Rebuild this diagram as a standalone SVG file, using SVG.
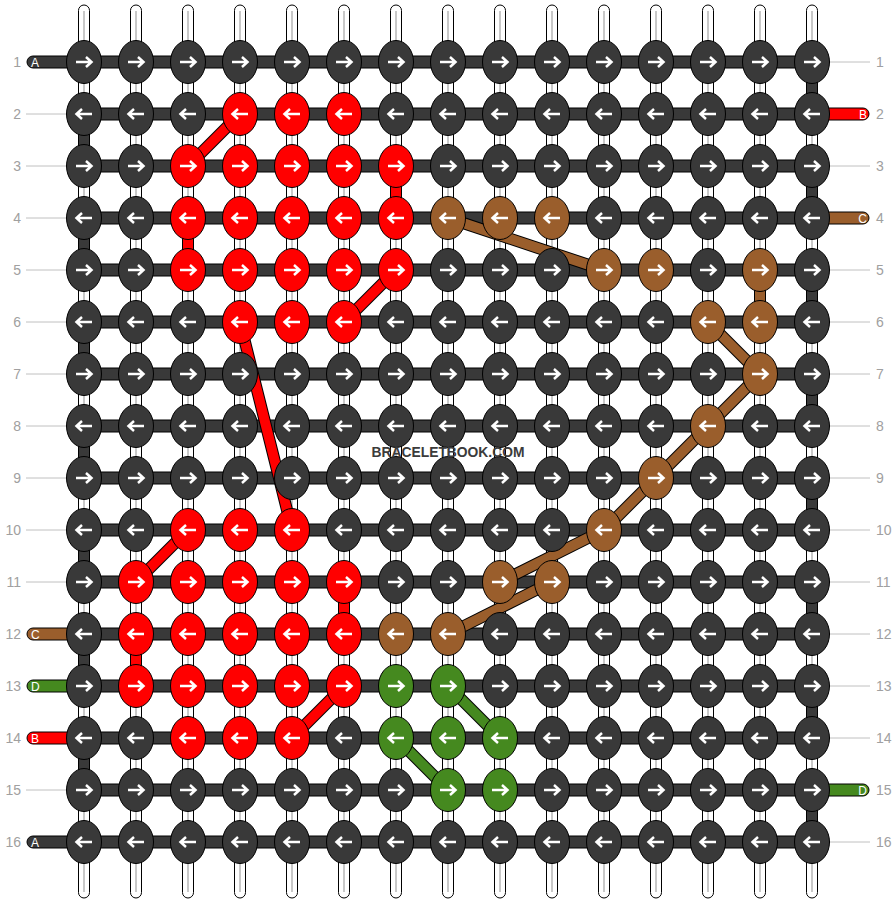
<svg xmlns="http://www.w3.org/2000/svg" xmlns:xlink="http://www.w3.org/1999/xlink" width="896" height="904" viewBox="0 0 896 904">
<style>
.str{fill:#fff;stroke:#000;stroke-width:1}
.strc{stroke:#c8c8c8;stroke-width:2}
.bar{fill:#393939;stroke:#000;stroke-width:1}
.ev{fill:#393939;stroke:#000;stroke-width:1}
.o{stroke:#000;stroke-width:12}
.cr{stroke:#ff0000;stroke-width:10}
.cb{stroke:#9a5e2c;stroke-width:10}
.cg{stroke:#45891f;stroke-width:10}
.k{stroke:#000;stroke-width:1}
.ar{fill:none;stroke:#fff;stroke-width:2.5}
.num{font-family:"Liberation Sans",Arial,sans-serif;font-size:14px;fill:#a0a0a0}
.lab{font-family:"Liberation Sans",Arial,sans-serif;font-size:12px;fill:#fff}
.gl{stroke:#c0c0c0;stroke-width:1}
.wm{font-family:"Liberation Sans",Arial,sans-serif;font-size:15px;font-weight:bold;fill:#3b3b3b}
</style>
<defs>
<path id="aR" class="ar" d="M-8,0H7M2,-5L7.5,0L2,5"/>
<path id="aL" class="ar" d="M8,0H-7M-2,-5L-7.5,0L-2,5"/>
<g id="dR"><ellipse class="k" rx="17.5" ry="21.5" fill="#393939"/><use href="#aR"/></g>
<g id="dL"><ellipse class="k" rx="17.5" ry="21.5" fill="#393939"/><use href="#aL"/></g>
<g id="rR"><ellipse class="k" rx="17.5" ry="21.5" fill="#ff0000"/><use href="#aR"/></g>
<g id="rL"><ellipse class="k" rx="17.5" ry="21.5" fill="#ff0000"/><use href="#aL"/></g>
<g id="bR"><ellipse class="k" rx="17.5" ry="21.5" fill="#9a5e2c"/><use href="#aR"/></g>
<g id="bL"><ellipse class="k" rx="17.5" ry="21.5" fill="#9a5e2c"/><use href="#aL"/></g>
<g id="gR"><ellipse class="k" rx="17.5" ry="21.5" fill="#45891f"/><use href="#aR"/></g>
<g id="gL"><ellipse class="k" rx="17.5" ry="21.5" fill="#45891f"/><use href="#aL"/></g>
</defs>
<rect width="896" height="904" fill="#fff"/>
<g id="labels">
<text class="num" x="21" y="67" text-anchor="end">1</text><text class="num" x="876" y="67">1</text>
<text class="num" x="21" y="119" text-anchor="end">2</text><text class="num" x="876" y="119">2</text>
<text class="num" x="21" y="171" text-anchor="end">3</text><text class="num" x="876" y="171">3</text>
<text class="num" x="21" y="223" text-anchor="end">4</text><text class="num" x="876" y="223">4</text>
<text class="num" x="21" y="275" text-anchor="end">5</text><text class="num" x="876" y="275">5</text>
<text class="num" x="21" y="327" text-anchor="end">6</text><text class="num" x="876" y="327">6</text>
<text class="num" x="21" y="379" text-anchor="end">7</text><text class="num" x="876" y="379">7</text>
<text class="num" x="21" y="431" text-anchor="end">8</text><text class="num" x="876" y="431">8</text>
<text class="num" x="21" y="483" text-anchor="end">9</text><text class="num" x="876" y="483">9</text>
<text class="num" x="21" y="535" text-anchor="end">10</text><text class="num" x="876" y="535">10</text>
<text class="num" x="21" y="587" text-anchor="end">11</text><text class="num" x="876" y="587">11</text>
<text class="num" x="21" y="639" text-anchor="end">12</text><text class="num" x="876" y="639">12</text>
<text class="num" x="21" y="691" text-anchor="end">13</text><text class="num" x="876" y="691">13</text>
<text class="num" x="21" y="743" text-anchor="end">14</text><text class="num" x="876" y="743">14</text>
<text class="num" x="21" y="795" text-anchor="end">15</text><text class="num" x="876" y="795">15</text>
<text class="num" x="21" y="847" text-anchor="end">16</text><text class="num" x="876" y="847">16</text>
<g class="gl">
<line x1="26" y1="114" x2="70" y2="114"/><line x1="26" y1="166" x2="70" y2="166"/><line x1="26" y1="218" x2="70" y2="218"/><line x1="26" y1="270" x2="70" y2="270"/><line x1="26" y1="322" x2="70" y2="322"/><line x1="26" y1="374" x2="70" y2="374"/><line x1="26" y1="426" x2="70" y2="426"/><line x1="26" y1="478" x2="70" y2="478"/><line x1="26" y1="530" x2="70" y2="530"/><line x1="26" y1="582" x2="70" y2="582"/><line x1="26" y1="790" x2="70" y2="790"/>
<line x1="826" y1="62" x2="870" y2="62"/><line x1="826" y1="166" x2="870" y2="166"/><line x1="826" y1="270" x2="870" y2="270"/><line x1="826" y1="322" x2="870" y2="322"/><line x1="826" y1="374" x2="870" y2="374"/><line x1="826" y1="426" x2="870" y2="426"/><line x1="826" y1="478" x2="870" y2="478"/><line x1="826" y1="530" x2="870" y2="530"/><line x1="826" y1="582" x2="870" y2="582"/><line x1="826" y1="634" x2="870" y2="634"/><line x1="826" y1="686" x2="870" y2="686"/><line x1="826" y1="738" x2="870" y2="738"/><line x1="826" y1="842" x2="870" y2="842"/>
</g>
</g>
<g id="strings">
<rect class="str" x="78.5" y="5" width="11" height="893" rx="5.5"/>
<rect class="str" x="130.5" y="5" width="11" height="893" rx="5.5"/>
<rect class="str" x="182.5" y="5" width="11" height="893" rx="5.5"/>
<rect class="str" x="234.5" y="5" width="11" height="893" rx="5.5"/>
<rect class="str" x="286.5" y="5" width="11" height="893" rx="5.5"/>
<rect class="str" x="338.5" y="5" width="11" height="893" rx="5.5"/>
<rect class="str" x="390.5" y="5" width="11" height="893" rx="5.5"/>
<rect class="str" x="442.5" y="5" width="11" height="893" rx="5.5"/>
<rect class="str" x="494.5" y="5" width="11" height="893" rx="5.5"/>
<rect class="str" x="546.5" y="5" width="11" height="893" rx="5.5"/>
<rect class="str" x="598.5" y="5" width="11" height="893" rx="5.5"/>
<rect class="str" x="650.5" y="5" width="11" height="893" rx="5.5"/>
<rect class="str" x="702.5" y="5" width="11" height="893" rx="5.5"/>
<rect class="str" x="754.5" y="5" width="11" height="893" rx="5.5"/>
<rect class="str" x="806.5" y="5" width="11" height="893" rx="5.5"/>
<g class="strc">
<line x1="84" y1="11" x2="84" y2="892"/><line x1="136" y1="11" x2="136" y2="892"/><line x1="188" y1="11" x2="188" y2="892"/><line x1="240" y1="11" x2="240" y2="892"/><line x1="292" y1="11" x2="292" y2="892"/><line x1="344" y1="11" x2="344" y2="892"/><line x1="396" y1="11" x2="396" y2="892"/><line x1="448" y1="11" x2="448" y2="892"/><line x1="500" y1="11" x2="500" y2="892"/><line x1="552" y1="11" x2="552" y2="892"/><line x1="604" y1="11" x2="604" y2="892"/><line x1="656" y1="11" x2="656" y2="892"/><line x1="708" y1="11" x2="708" y2="892"/><line x1="760" y1="11" x2="760" y2="892"/><line x1="812" y1="11" x2="812" y2="892"/>
</g>
</g>
<g id="rows">
<rect class="bar" x="84" y="56" width="728" height="12"/>
<rect class="bar" x="84" y="108" width="728" height="12"/>
<rect class="bar" x="84" y="160" width="728" height="12"/>
<rect class="bar" x="84" y="212" width="728" height="12"/>
<rect class="bar" x="84" y="264" width="728" height="12"/>
<rect class="bar" x="84" y="316" width="728" height="12"/>
<rect class="bar" x="84" y="368" width="728" height="12"/>
<rect class="bar" x="84" y="420" width="728" height="12"/>
<rect class="bar" x="84" y="472" width="728" height="12"/>
<rect class="bar" x="84" y="524" width="728" height="12"/>
<rect class="bar" x="84" y="576" width="728" height="12"/>
<rect class="bar" x="84" y="628" width="728" height="12"/>
<rect class="bar" x="84" y="680" width="728" height="12"/>
<rect class="bar" x="84" y="732" width="728" height="12"/>
<rect class="bar" x="84" y="784" width="728" height="12"/>
<rect class="bar" x="84" y="836" width="728" height="12"/>
<rect x="27" y="56" width="62" height="12" rx="6" fill="#393939" stroke="#000"/>
<rect x="27" y="628" width="62" height="12" rx="6" fill="#9a5e2c" stroke="#000"/>
<rect x="27" y="680" width="62" height="12" rx="6" fill="#45891f" stroke="#000"/>
<rect x="27" y="732" width="62" height="12" rx="6" fill="#ff0000" stroke="#000"/>
<rect x="27" y="836" width="62" height="12" rx="6" fill="#393939" stroke="#000"/>
<rect x="807" y="108" width="62" height="12" rx="6" fill="#ff0000" stroke="#000"/>
<rect x="807" y="212" width="62" height="12" rx="6" fill="#9a5e2c" stroke="#000"/>
<rect x="807" y="784" width="62" height="12" rx="6" fill="#45891f" stroke="#000"/>
<text class="lab" x="31" y="66.5">A</text>
<text class="lab" x="31" y="638.5">C</text>
<text class="lab" x="31" y="690.5">D</text>
<text class="lab" x="31" y="742.5">B</text>
<text class="lab" x="31" y="846.5">A</text>
<text class="lab" x="867" y="118.5" text-anchor="end">B</text>
<text class="lab" x="867" y="222.5" text-anchor="end">C</text>
<text class="lab" x="867" y="794.5" text-anchor="end">D</text>
</g>
<g id="connectors">
<rect class="ev" x="806.5" y="62" width="11" height="52"/>
<rect class="ev" x="78.5" y="114" width="11" height="52"/>
<rect class="ev" x="806.5" y="166" width="11" height="52"/>
<rect class="ev" x="78.5" y="218" width="11" height="52"/>
<rect class="ev" x="806.5" y="270" width="11" height="52"/>
<rect class="ev" x="78.5" y="322" width="11" height="52"/>
<rect class="ev" x="806.5" y="374" width="11" height="52"/>
<rect class="ev" x="78.5" y="426" width="11" height="52"/>
<rect class="ev" x="806.5" y="478" width="11" height="52"/>
<rect class="ev" x="78.5" y="530" width="11" height="52"/>
<rect class="ev" x="806.5" y="582" width="11" height="52"/>
<rect class="ev" x="78.5" y="634" width="11" height="52"/>
<rect class="ev" x="806.5" y="686" width="11" height="52"/>
<rect class="ev" x="78.5" y="738" width="11" height="52"/>
<rect class="ev" x="806.5" y="790" width="11" height="52"/>
<g id="redpath">
<line class="o" x1="240" y1="114" x2="188" y2="166"/><line class="cr" x1="240" y1="114" x2="188" y2="166"/>
<line class="o" x1="396" y1="166" x2="396" y2="218"/><line class="cr" x1="396" y1="166" x2="396" y2="218"/>
<line class="o" x1="188" y1="218" x2="188" y2="270"/><line class="cr" x1="188" y1="218" x2="188" y2="270"/>
<line class="o" x1="396" y1="270" x2="344" y2="322"/><line class="cr" x1="396" y1="270" x2="344" y2="322"/>
<line class="o" x1="240" y1="322" x2="292" y2="530"/><line class="cr" x1="240" y1="322" x2="292" y2="530"/>
<line class="o" x1="188" y1="530" x2="136" y2="582"/><line class="cr" x1="188" y1="530" x2="136" y2="582"/>
<line class="o" x1="344" y1="582" x2="344" y2="634"/><line class="cr" x1="344" y1="582" x2="344" y2="634"/>
<line class="o" x1="136" y1="634" x2="136" y2="686"/><line class="cr" x1="136" y1="634" x2="136" y2="686"/>
<line class="o" x1="344" y1="686" x2="292" y2="738"/><line class="cr" x1="344" y1="686" x2="292" y2="738"/>
</g>
<g id="brownpath">
<line class="o" x1="448" y1="218" x2="604" y2="270"/><line class="cb" x1="448" y1="218" x2="604" y2="270"/>
<line class="o" x1="760" y1="270" x2="760" y2="322"/><line class="cb" x1="760" y1="270" x2="760" y2="322"/>
<line class="o" x1="708" y1="322" x2="760" y2="374"/><line class="cb" x1="708" y1="322" x2="760" y2="374"/>
<line class="o" x1="760" y1="374" x2="708" y2="426"/><line class="cb" x1="760" y1="374" x2="708" y2="426"/>
<line class="o" x1="708" y1="426" x2="656" y2="478"/><line class="cb" x1="708" y1="426" x2="656" y2="478"/>
<line class="o" x1="656" y1="478" x2="604" y2="530"/><line class="cb" x1="656" y1="478" x2="604" y2="530"/>
<line class="o" x1="604" y1="530" x2="500" y2="582"/><line class="cb" x1="604" y1="530" x2="500" y2="582"/>
<line class="o" x1="552" y1="582" x2="448" y2="634"/><line class="cb" x1="552" y1="582" x2="448" y2="634"/>
</g>
<g id="greenpath">
<line class="o" x1="448" y1="686" x2="500" y2="738"/><line class="cg" x1="448" y1="686" x2="500" y2="738"/>
<line class="o" x1="396" y1="738" x2="448" y2="790"/><line class="cg" x1="396" y1="738" x2="448" y2="790"/>
</g>
</g>
<g id="knots">
<g id="k1_1" transform="translate(84,62)"><use href="#dR"/></g>
<g id="k1_2" transform="translate(136,62)"><use href="#dR"/></g>
<g id="k1_3" transform="translate(188,62)"><use href="#dR"/></g>
<g id="k1_4" transform="translate(240,62)"><use href="#dR"/></g>
<g id="k1_5" transform="translate(292,62)"><use href="#dR"/></g>
<g id="k1_6" transform="translate(344,62)"><use href="#dR"/></g>
<g id="k1_7" transform="translate(396,62)"><use href="#dR"/></g>
<g id="k1_8" transform="translate(448,62)"><use href="#dR"/></g>
<g id="k1_9" transform="translate(500,62)"><use href="#dR"/></g>
<g id="k1_10" transform="translate(552,62)"><use href="#dR"/></g>
<g id="k1_11" transform="translate(604,62)"><use href="#dR"/></g>
<g id="k1_12" transform="translate(656,62)"><use href="#dR"/></g>
<g id="k1_13" transform="translate(708,62)"><use href="#dR"/></g>
<g id="k1_14" transform="translate(760,62)"><use href="#dR"/></g>
<g id="k1_15" transform="translate(812,62)"><use href="#dR"/></g>
<g id="k2_1" transform="translate(84,114)"><use href="#dL"/></g>
<g id="k2_2" transform="translate(136,114)"><use href="#dL"/></g>
<g id="k2_3" transform="translate(188,114)"><use href="#dL"/></g>
<g id="k2_4" transform="translate(240,114)"><use href="#rL"/></g>
<g id="k2_5" transform="translate(292,114)"><use href="#rL"/></g>
<g id="k2_6" transform="translate(344,114)"><use href="#rL"/></g>
<g id="k2_7" transform="translate(396,114)"><use href="#dL"/></g>
<g id="k2_8" transform="translate(448,114)"><use href="#dL"/></g>
<g id="k2_9" transform="translate(500,114)"><use href="#dL"/></g>
<g id="k2_10" transform="translate(552,114)"><use href="#dL"/></g>
<g id="k2_11" transform="translate(604,114)"><use href="#dL"/></g>
<g id="k2_12" transform="translate(656,114)"><use href="#dL"/></g>
<g id="k2_13" transform="translate(708,114)"><use href="#dL"/></g>
<g id="k2_14" transform="translate(760,114)"><use href="#dL"/></g>
<g id="k2_15" transform="translate(812,114)"><use href="#dL"/></g>
<g id="k3_1" transform="translate(84,166)"><use href="#dR"/></g>
<g id="k3_2" transform="translate(136,166)"><use href="#dR"/></g>
<g id="k3_3" transform="translate(188,166)"><use href="#rR"/></g>
<g id="k3_4" transform="translate(240,166)"><use href="#rR"/></g>
<g id="k3_5" transform="translate(292,166)"><use href="#rR"/></g>
<g id="k3_6" transform="translate(344,166)"><use href="#rR"/></g>
<g id="k3_7" transform="translate(396,166)"><use href="#rR"/></g>
<g id="k3_8" transform="translate(448,166)"><use href="#dR"/></g>
<g id="k3_9" transform="translate(500,166)"><use href="#dR"/></g>
<g id="k3_10" transform="translate(552,166)"><use href="#dR"/></g>
<g id="k3_11" transform="translate(604,166)"><use href="#dR"/></g>
<g id="k3_12" transform="translate(656,166)"><use href="#dR"/></g>
<g id="k3_13" transform="translate(708,166)"><use href="#dR"/></g>
<g id="k3_14" transform="translate(760,166)"><use href="#dR"/></g>
<g id="k3_15" transform="translate(812,166)"><use href="#dR"/></g>
<g id="k4_1" transform="translate(84,218)"><use href="#dL"/></g>
<g id="k4_2" transform="translate(136,218)"><use href="#dL"/></g>
<g id="k4_3" transform="translate(188,218)"><use href="#rL"/></g>
<g id="k4_4" transform="translate(240,218)"><use href="#rL"/></g>
<g id="k4_5" transform="translate(292,218)"><use href="#rL"/></g>
<g id="k4_6" transform="translate(344,218)"><use href="#rL"/></g>
<g id="k4_7" transform="translate(396,218)"><use href="#rL"/></g>
<g id="k4_8" transform="translate(448,218)"><use href="#bL"/></g>
<g id="k4_9" transform="translate(500,218)"><use href="#bL"/></g>
<g id="k4_10" transform="translate(552,218)"><use href="#bL"/></g>
<g id="k4_11" transform="translate(604,218)"><use href="#dL"/></g>
<g id="k4_12" transform="translate(656,218)"><use href="#dL"/></g>
<g id="k4_13" transform="translate(708,218)"><use href="#dL"/></g>
<g id="k4_14" transform="translate(760,218)"><use href="#dL"/></g>
<g id="k4_15" transform="translate(812,218)"><use href="#dL"/></g>
<g id="k5_1" transform="translate(84,270)"><use href="#dR"/></g>
<g id="k5_2" transform="translate(136,270)"><use href="#dR"/></g>
<g id="k5_3" transform="translate(188,270)"><use href="#rR"/></g>
<g id="k5_4" transform="translate(240,270)"><use href="#rR"/></g>
<g id="k5_5" transform="translate(292,270)"><use href="#rR"/></g>
<g id="k5_6" transform="translate(344,270)"><use href="#rR"/></g>
<g id="k5_7" transform="translate(396,270)"><use href="#rR"/></g>
<g id="k5_8" transform="translate(448,270)"><use href="#dR"/></g>
<g id="k5_9" transform="translate(500,270)"><use href="#dR"/></g>
<g id="k5_10" transform="translate(552,270)"><use href="#dR"/></g>
<g id="k5_11" transform="translate(604,270)"><use href="#bR"/></g>
<g id="k5_12" transform="translate(656,270)"><use href="#bR"/></g>
<g id="k5_13" transform="translate(708,270)"><use href="#dR"/></g>
<g id="k5_14" transform="translate(760,270)"><use href="#bR"/></g>
<g id="k5_15" transform="translate(812,270)"><use href="#dR"/></g>
<g id="k6_1" transform="translate(84,322)"><use href="#dL"/></g>
<g id="k6_2" transform="translate(136,322)"><use href="#dL"/></g>
<g id="k6_3" transform="translate(188,322)"><use href="#dL"/></g>
<g id="k6_4" transform="translate(240,322)"><use href="#rL"/></g>
<g id="k6_5" transform="translate(292,322)"><use href="#rL"/></g>
<g id="k6_6" transform="translate(344,322)"><use href="#rL"/></g>
<g id="k6_7" transform="translate(396,322)"><use href="#dL"/></g>
<g id="k6_8" transform="translate(448,322)"><use href="#dL"/></g>
<g id="k6_9" transform="translate(500,322)"><use href="#dL"/></g>
<g id="k6_10" transform="translate(552,322)"><use href="#dL"/></g>
<g id="k6_11" transform="translate(604,322)"><use href="#dL"/></g>
<g id="k6_12" transform="translate(656,322)"><use href="#dL"/></g>
<g id="k6_13" transform="translate(708,322)"><use href="#bL"/></g>
<g id="k6_14" transform="translate(760,322)"><use href="#bL"/></g>
<g id="k6_15" transform="translate(812,322)"><use href="#dL"/></g>
<g id="k7_1" transform="translate(84,374)"><use href="#dR"/></g>
<g id="k7_2" transform="translate(136,374)"><use href="#dR"/></g>
<g id="k7_3" transform="translate(188,374)"><use href="#dR"/></g>
<g id="k7_4" transform="translate(240,374)"><use href="#dR"/></g>
<g id="k7_5" transform="translate(292,374)"><use href="#dR"/></g>
<g id="k7_6" transform="translate(344,374)"><use href="#dR"/></g>
<g id="k7_7" transform="translate(396,374)"><use href="#dR"/></g>
<g id="k7_8" transform="translate(448,374)"><use href="#dR"/></g>
<g id="k7_9" transform="translate(500,374)"><use href="#dR"/></g>
<g id="k7_10" transform="translate(552,374)"><use href="#dR"/></g>
<g id="k7_11" transform="translate(604,374)"><use href="#dR"/></g>
<g id="k7_12" transform="translate(656,374)"><use href="#dR"/></g>
<g id="k7_13" transform="translate(708,374)"><use href="#dR"/></g>
<g id="k7_14" transform="translate(760,374)"><use href="#bR"/></g>
<g id="k7_15" transform="translate(812,374)"><use href="#dR"/></g>
<g id="k8_1" transform="translate(84,426)"><use href="#dL"/></g>
<g id="k8_2" transform="translate(136,426)"><use href="#dL"/></g>
<g id="k8_3" transform="translate(188,426)"><use href="#dL"/></g>
<g id="k8_4" transform="translate(240,426)"><use href="#dL"/></g>
<g id="k8_5" transform="translate(292,426)"><use href="#dL"/></g>
<g id="k8_6" transform="translate(344,426)"><use href="#dL"/></g>
<g id="k8_7" transform="translate(396,426)"><use href="#dL"/></g>
<g id="k8_8" transform="translate(448,426)"><use href="#dL"/></g>
<g id="k8_9" transform="translate(500,426)"><use href="#dL"/></g>
<g id="k8_10" transform="translate(552,426)"><use href="#dL"/></g>
<g id="k8_11" transform="translate(604,426)"><use href="#dL"/></g>
<g id="k8_12" transform="translate(656,426)"><use href="#dL"/></g>
<g id="k8_13" transform="translate(708,426)"><use href="#bL"/></g>
<g id="k8_14" transform="translate(760,426)"><use href="#dL"/></g>
<g id="k8_15" transform="translate(812,426)"><use href="#dL"/></g>
<g id="k9_1" transform="translate(84,478)"><use href="#dR"/></g>
<g id="k9_2" transform="translate(136,478)"><use href="#dR"/></g>
<g id="k9_3" transform="translate(188,478)"><use href="#dR"/></g>
<g id="k9_4" transform="translate(240,478)"><use href="#dR"/></g>
<g id="k9_5" transform="translate(292,478)"><use href="#dR"/></g>
<g id="k9_6" transform="translate(344,478)"><use href="#dR"/></g>
<g id="k9_7" transform="translate(396,478)"><use href="#dR"/></g>
<g id="k9_8" transform="translate(448,478)"><use href="#dR"/></g>
<g id="k9_9" transform="translate(500,478)"><use href="#dR"/></g>
<g id="k9_10" transform="translate(552,478)"><use href="#dR"/></g>
<g id="k9_11" transform="translate(604,478)"><use href="#dR"/></g>
<g id="k9_12" transform="translate(656,478)"><use href="#bR"/></g>
<g id="k9_13" transform="translate(708,478)"><use href="#dR"/></g>
<g id="k9_14" transform="translate(760,478)"><use href="#dR"/></g>
<g id="k9_15" transform="translate(812,478)"><use href="#dR"/></g>
<g id="k10_1" transform="translate(84,530)"><use href="#dL"/></g>
<g id="k10_2" transform="translate(136,530)"><use href="#dL"/></g>
<g id="k10_3" transform="translate(188,530)"><use href="#rL"/></g>
<g id="k10_4" transform="translate(240,530)"><use href="#rL"/></g>
<g id="k10_5" transform="translate(292,530)"><use href="#rL"/></g>
<g id="k10_6" transform="translate(344,530)"><use href="#dL"/></g>
<g id="k10_7" transform="translate(396,530)"><use href="#dL"/></g>
<g id="k10_8" transform="translate(448,530)"><use href="#dL"/></g>
<g id="k10_9" transform="translate(500,530)"><use href="#dL"/></g>
<g id="k10_10" transform="translate(552,530)"><use href="#dL"/></g>
<g id="k10_11" transform="translate(604,530)"><use href="#bL"/></g>
<g id="k10_12" transform="translate(656,530)"><use href="#dL"/></g>
<g id="k10_13" transform="translate(708,530)"><use href="#dL"/></g>
<g id="k10_14" transform="translate(760,530)"><use href="#dL"/></g>
<g id="k10_15" transform="translate(812,530)"><use href="#dL"/></g>
<g id="k11_1" transform="translate(84,582)"><use href="#dR"/></g>
<g id="k11_2" transform="translate(136,582)"><use href="#rR"/></g>
<g id="k11_3" transform="translate(188,582)"><use href="#rR"/></g>
<g id="k11_4" transform="translate(240,582)"><use href="#rR"/></g>
<g id="k11_5" transform="translate(292,582)"><use href="#rR"/></g>
<g id="k11_6" transform="translate(344,582)"><use href="#rR"/></g>
<g id="k11_7" transform="translate(396,582)"><use href="#dR"/></g>
<g id="k11_8" transform="translate(448,582)"><use href="#dR"/></g>
<g id="k11_9" transform="translate(500,582)"><use href="#bR"/></g>
<g id="k11_10" transform="translate(552,582)"><use href="#bR"/></g>
<g id="k11_11" transform="translate(604,582)"><use href="#dR"/></g>
<g id="k11_12" transform="translate(656,582)"><use href="#dR"/></g>
<g id="k11_13" transform="translate(708,582)"><use href="#dR"/></g>
<g id="k11_14" transform="translate(760,582)"><use href="#dR"/></g>
<g id="k11_15" transform="translate(812,582)"><use href="#dR"/></g>
<g id="k12_1" transform="translate(84,634)"><use href="#dL"/></g>
<g id="k12_2" transform="translate(136,634)"><use href="#rL"/></g>
<g id="k12_3" transform="translate(188,634)"><use href="#rL"/></g>
<g id="k12_4" transform="translate(240,634)"><use href="#rL"/></g>
<g id="k12_5" transform="translate(292,634)"><use href="#rL"/></g>
<g id="k12_6" transform="translate(344,634)"><use href="#rL"/></g>
<g id="k12_7" transform="translate(396,634)"><use href="#bL"/></g>
<g id="k12_8" transform="translate(448,634)"><use href="#bL"/></g>
<g id="k12_9" transform="translate(500,634)"><use href="#dL"/></g>
<g id="k12_10" transform="translate(552,634)"><use href="#dL"/></g>
<g id="k12_11" transform="translate(604,634)"><use href="#dL"/></g>
<g id="k12_12" transform="translate(656,634)"><use href="#dL"/></g>
<g id="k12_13" transform="translate(708,634)"><use href="#dL"/></g>
<g id="k12_14" transform="translate(760,634)"><use href="#dL"/></g>
<g id="k12_15" transform="translate(812,634)"><use href="#dL"/></g>
<g id="k13_1" transform="translate(84,686)"><use href="#dR"/></g>
<g id="k13_2" transform="translate(136,686)"><use href="#rR"/></g>
<g id="k13_3" transform="translate(188,686)"><use href="#rR"/></g>
<g id="k13_4" transform="translate(240,686)"><use href="#rR"/></g>
<g id="k13_5" transform="translate(292,686)"><use href="#rR"/></g>
<g id="k13_6" transform="translate(344,686)"><use href="#rR"/></g>
<g id="k13_7" transform="translate(396,686)"><use href="#gR"/></g>
<g id="k13_8" transform="translate(448,686)"><use href="#gR"/></g>
<g id="k13_9" transform="translate(500,686)"><use href="#dR"/></g>
<g id="k13_10" transform="translate(552,686)"><use href="#dR"/></g>
<g id="k13_11" transform="translate(604,686)"><use href="#dR"/></g>
<g id="k13_12" transform="translate(656,686)"><use href="#dR"/></g>
<g id="k13_13" transform="translate(708,686)"><use href="#dR"/></g>
<g id="k13_14" transform="translate(760,686)"><use href="#dR"/></g>
<g id="k13_15" transform="translate(812,686)"><use href="#dR"/></g>
<g id="k14_1" transform="translate(84,738)"><use href="#dL"/></g>
<g id="k14_2" transform="translate(136,738)"><use href="#dL"/></g>
<g id="k14_3" transform="translate(188,738)"><use href="#rL"/></g>
<g id="k14_4" transform="translate(240,738)"><use href="#rL"/></g>
<g id="k14_5" transform="translate(292,738)"><use href="#rL"/></g>
<g id="k14_6" transform="translate(344,738)"><use href="#dL"/></g>
<g id="k14_7" transform="translate(396,738)"><use href="#gL"/></g>
<g id="k14_8" transform="translate(448,738)"><use href="#gL"/></g>
<g id="k14_9" transform="translate(500,738)"><use href="#gL"/></g>
<g id="k14_10" transform="translate(552,738)"><use href="#dL"/></g>
<g id="k14_11" transform="translate(604,738)"><use href="#dL"/></g>
<g id="k14_12" transform="translate(656,738)"><use href="#dL"/></g>
<g id="k14_13" transform="translate(708,738)"><use href="#dL"/></g>
<g id="k14_14" transform="translate(760,738)"><use href="#dL"/></g>
<g id="k14_15" transform="translate(812,738)"><use href="#dL"/></g>
<g id="k15_1" transform="translate(84,790)"><use href="#dR"/></g>
<g id="k15_2" transform="translate(136,790)"><use href="#dR"/></g>
<g id="k15_3" transform="translate(188,790)"><use href="#dR"/></g>
<g id="k15_4" transform="translate(240,790)"><use href="#dR"/></g>
<g id="k15_5" transform="translate(292,790)"><use href="#dR"/></g>
<g id="k15_6" transform="translate(344,790)"><use href="#dR"/></g>
<g id="k15_7" transform="translate(396,790)"><use href="#dR"/></g>
<g id="k15_8" transform="translate(448,790)"><use href="#gR"/></g>
<g id="k15_9" transform="translate(500,790)"><use href="#gR"/></g>
<g id="k15_10" transform="translate(552,790)"><use href="#dR"/></g>
<g id="k15_11" transform="translate(604,790)"><use href="#dR"/></g>
<g id="k15_12" transform="translate(656,790)"><use href="#dR"/></g>
<g id="k15_13" transform="translate(708,790)"><use href="#dR"/></g>
<g id="k15_14" transform="translate(760,790)"><use href="#dR"/></g>
<g id="k15_15" transform="translate(812,790)"><use href="#dR"/></g>
<g id="k16_1" transform="translate(84,842)"><use href="#dL"/></g>
<g id="k16_2" transform="translate(136,842)"><use href="#dL"/></g>
<g id="k16_3" transform="translate(188,842)"><use href="#dL"/></g>
<g id="k16_4" transform="translate(240,842)"><use href="#dL"/></g>
<g id="k16_5" transform="translate(292,842)"><use href="#dL"/></g>
<g id="k16_6" transform="translate(344,842)"><use href="#dL"/></g>
<g id="k16_7" transform="translate(396,842)"><use href="#dL"/></g>
<g id="k16_8" transform="translate(448,842)"><use href="#dL"/></g>
<g id="k16_9" transform="translate(500,842)"><use href="#dL"/></g>
<g id="k16_10" transform="translate(552,842)"><use href="#dL"/></g>
<g id="k16_11" transform="translate(604,842)"><use href="#dL"/></g>
<g id="k16_12" transform="translate(656,842)"><use href="#dL"/></g>
<g id="k16_13" transform="translate(708,842)"><use href="#dL"/></g>
<g id="k16_14" transform="translate(760,842)"><use href="#dL"/></g>
<g id="k16_15" transform="translate(812,842)"><use href="#dL"/></g>
</g>
<text class="wm" x="448" y="457" text-anchor="middle" textLength="153" lengthAdjust="spacingAndGlyphs">BRACELETBOOK.COM</text>
</svg>
